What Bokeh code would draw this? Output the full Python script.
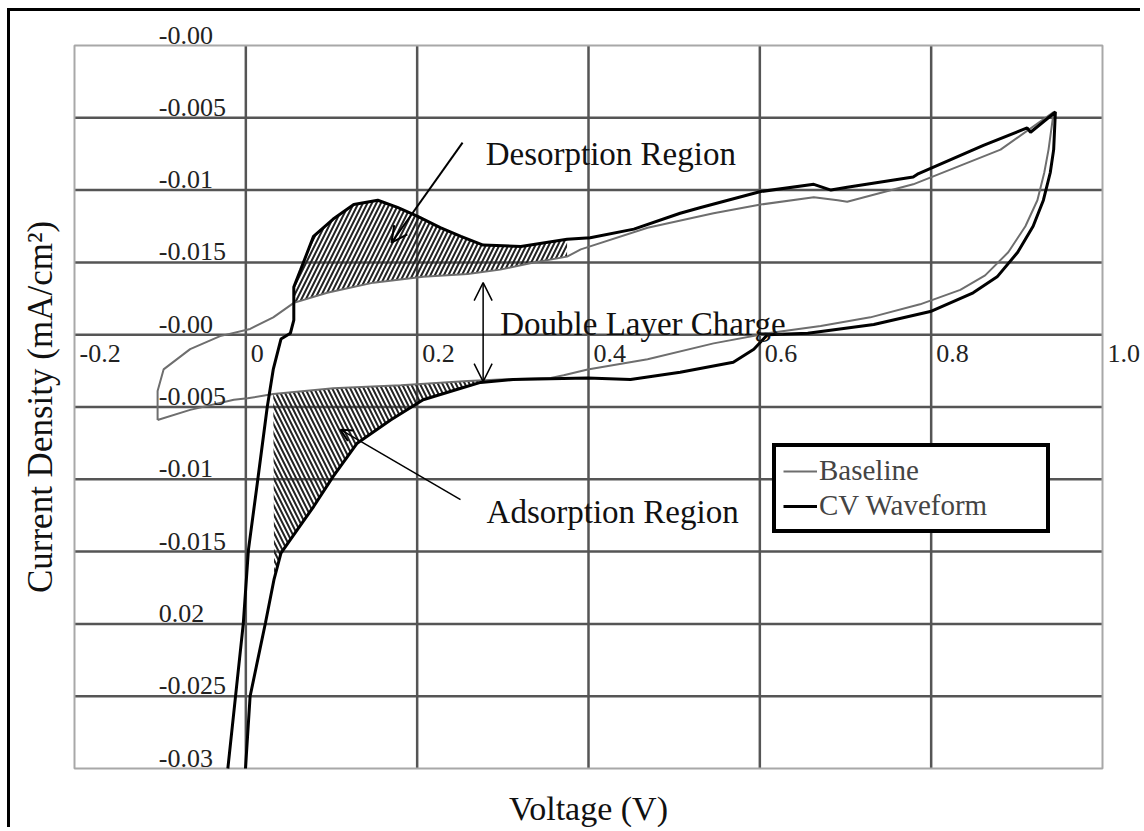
import numpy as np
from bokeh.plotting import figure
from bokeh.models import (Range1d, ColumnDataSource, LabelSet, Label,
                          Arrow, OpenHead, Legend, LegendItem)
from bokeh.core.properties import value
from bokeh.embed import file_html
from bokeh.resources import INLINE

# ---------------- data ----------------
x_ticks = [-0.2, 0.0, 0.2, 0.4, 0.6, 0.8, 1.0]
x_tick_labels = ["-0.2", "0", "0.2", "0.4", "0.6", "0.8", "1.0"]
y_ticks = [0.02, 0.015, 0.01, 0.005, 0.0, -0.005, -0.01, -0.015, -0.02, -0.025, -0.03]
y_tick_labels = ["-0.00", "-0.005", "-0.01", "-0.015", "-0.00", "-0.005",
                 "-0.01", "-0.015", "0.02", "-0.025", "-0.03"]

# CV waveform, anodic sweep (V, mA/cm2)
cv_an_v = [-0.021, -0.012, -0.003, 0.003, 0.014, 0.025, 0.032, 0.041, 0.052, 0.056,
           0.056, 0.064, 0.079, 0.102, 0.126, 0.154, 0.177, 0.200, 0.227, 0.251,
           0.277, 0.321, 0.375, 0.402, 0.453, 0.507, 0.531, 0.601, 0.663, 0.683,
           0.702, 0.779, 0.784, 0.861, 0.912, 0.916, 0.945]
cv_an_j = [-0.0300, -0.0250, -0.0200, -0.0149, -0.0100, -0.0050, -0.0024, -0.0003, 0.0001, 0.0010,
           0.0033, 0.0045, 0.0068, 0.0080, 0.0090, 0.0093, 0.0088, 0.0082, 0.0074, 0.0068,
           0.0062, 0.0061, 0.0066, 0.0067, 0.0073, 0.0084, 0.0088, 0.0099, 0.0104, 0.0100,
           0.0102, 0.0109, 0.0111, 0.0131, 0.0143, 0.0140, 0.0154]
# CV waveform, cathodic sweep
cv_ca_v = [0.943, 0.939, 0.931, 0.919, 0.901, 0.877, 0.849, 0.799, 0.733, 0.656,
           0.609, 0.593, 0.569, 0.507, 0.449, 0.399, 0.312, 0.274, 0.251, 0.207,
           0.169, 0.130, 0.102, 0.079, 0.060, 0.041, 0.033, 0.023, 0.005, -0.0004]
cv_ca_j = [0.0128, 0.0112, 0.0093, 0.0075, 0.0057, 0.0040, 0.0029, 0.0016, 0.0007, 0.0001,
           0.0000, -0.0010, -0.0019, -0.0026, -0.0031, -0.0030, -0.0031, -0.0033, -0.0037, -0.0045,
           -0.0059, -0.0075, -0.0098, -0.0119, -0.0135, -0.0151, -0.0169, -0.0199, -0.0250, -0.0300]

# Baseline, anodic sweep
bl_an_v = [-0.103, -0.103, -0.096, -0.065, -0.030, 0.005, 0.032, 0.056, 0.095, 0.149,
           0.207, 0.259, 0.297, 0.336, 0.375, 0.391, 0.469, 0.546, 0.601, 0.663,
           0.691, 0.702, 0.779, 0.881, 0.943]
bl_an_j = [-0.0059, -0.0039, -0.0024, -0.0010, -0.0001, 0.0004, 0.0012, 0.0022, 0.0029, 0.0036,
           0.0040, 0.0042, 0.0045, 0.0050, 0.0054, 0.0059, 0.0074, 0.0084, 0.0090, 0.0095,
           0.0093, 0.0092, 0.0104, 0.0128, 0.0154]
# Baseline, cathodic sweep
bl_ca_v = [0.937, 0.932, 0.924, 0.910, 0.890, 0.863, 0.834, 0.787, 0.729, 0.671,
           0.609, 0.546, 0.469, 0.399, 0.371, 0.356, 0.297, 0.259, 0.181, 0.102,
           0.032, 0.002, -0.014, -0.065, -0.103]
bl_ca_j = [0.0128, 0.0112, 0.0093, 0.0075, 0.0057, 0.0041, 0.0031, 0.0021, 0.0012, 0.0006,
           0.0001, -0.0006, -0.0017, -0.0024, -0.0028, -0.0030, -0.0031, -0.0032, -0.0035, -0.0037,
           -0.0041, -0.0044, -0.0045, -0.0052, -0.0059]

# ---------------- derived shapes ----------------
cv_v = cv_an_v + cv_ca_v
cv_j = cv_an_j + cv_ca_j
bl_v = bl_an_v + bl_ca_v
bl_j = bl_an_j + bl_ca_j

a_v, a_j = np.array(cv_an_v), np.array(cv_an_j)
b_v, b_j = np.array(bl_an_v), np.array(bl_an_j)
m_top = (a_v >= 0.056) & (a_v <= 0.39) & (a_j >= 0.0022)
m_bot = (b_v >= 0.056) & (b_v <= 0.39)
des_v = list(a_v[m_top]) + list(b_v[m_bot][::-1])
des_j = list(a_j[m_top]) + list(b_j[m_bot][::-1])

c_v, c_j = np.array(cv_ca_v), np.array(cv_ca_j)
d_v, d_j = np.array(bl_ca_v), np.array(bl_ca_j)
m_cv = (c_v >= 0.033) & (c_v <= 0.30) & (c_j <= -0.003)
m_bl = (d_v >= 0.03) & (d_v <= 0.30)
ads_v = list(c_v[m_cv]) + list(d_v[m_bl][::-1])
ads_j = list(c_j[m_cv]) + list(d_j[m_bl][::-1])

SERIF = "Liberation Serif"

# ---------------- layout geometry (page pixels) ----------------
CX0, CY0, CW, CH = 10, 11, 1133, 819        # canvas content box
GL, GR, GT, GB = 74, 1102, 45, 768          # grid box
xmin, xmax = x_ticks[0], x_ticks[-1]
ymin, ymax = y_ticks[-1], y_ticks[0]
kx = (GR - GL) / (xmax - xmin)
ky = (GB - GT) / (ymax - ymin)
x_range = Range1d(xmin - (GL - CX0) / kx, xmax + (CX0 + CW - GR) / kx)
y_range = Range1d(ymin - (CY0 + CH - GB) / ky, ymax + (GT - CY0) / ky)

p = figure(width=CW, height=CH, x_range=x_range, y_range=y_range,
           x_axis_location=None, y_axis_location=None,
           toolbar_location=None, output_backend="svg",
           min_border=0, min_border_left=0, min_border_right=0,
           min_border_top=0, min_border_bottom=0,
           background_fill_color="white", border_fill_color="white",
           outline_line_color=None)
p.styles = {"margin-left": "7px", "margin-top": "8px",
            "border-top": "3px solid black", "border-left": "3px solid black"}
p.xgrid.visible = False
p.ygrid.visible = False

# grid lines and grid box
gx = x_ticks[1:-1]
gy = y_ticks[1:-1]
p.segment(x0=gx, y0=[ymin] * len(gx), x1=gx, y1=[ymax] * len(gx),
          line_color="#555555", line_width=2.5)
p.segment(x0=[xmin] * len(gy), y0=gy, x1=[xmax] * len(gy), y1=gy,
          line_color="#555555", line_width=2.5)
p.quad(left=[xmin], right=[xmax], bottom=[ymin], top=[ymax],
       fill_alpha=0, line_color="#a8a8a8", line_width=2)

# hatched regions
p.patch(des_v, des_j, fill_alpha=0, line_alpha=0,
        hatch_pattern="/", hatch_scale=9, hatch_weight=2, hatch_color="#222222")
p.patch(ads_v, ads_j, fill_alpha=0, line_alpha=0,
        hatch_pattern="\\", hatch_scale=9, hatch_weight=2, hatch_color="#222222")

bl = p.line(bl_v, bl_j, line_color="#6e6e6e", line_width=2)
cv = p.line(cv_v, cv_j, line_color="black", line_width=3)

# tick labels
xsrc = ColumnDataSource(dict(x=x_ticks, y=[0.0] * len(x_ticks), t=x_tick_labels))
ysrc = ColumnDataSource(dict(x=[0.0] * len(y_ticks), y=y_ticks, t=y_tick_labels))
p.add_layout(LabelSet(x="x", y="y", text="t", source=xsrc, x_offset=5, y_offset=-27,
                      text_align="left", text_baseline="alphabetic",
                      text_font=value(SERIF), text_font_size="26px", text_color="#222222"))
p.add_layout(LabelSet(x="x", y="y", text="t", source=ysrc, x_offset=-87, y_offset=2,
                      text_align="left", text_baseline="alphabetic",
                      text_font=value(SERIF), text_font_size="26px", text_color="#222222"))

# axis titles
p.add_layout(Label(x=(xmin + xmax) / 2, y=ymin, y_offset=-40, text="Voltage (V)",
                   text_align="center", text_baseline="alphabetic", text_font=SERIF,
                   text_font_size="34px", text_color="#111111"))
p.add_layout(Label(x=xmin, x_offset=-34, y=(ymin + ymax) / 2, text="Current Density (mA/cm²)",
                   angle=90, angle_units="deg", text_align="center", text_baseline="alphabetic",
                   text_font=SERIF, text_font_size="35px", text_color="#111111"))

# annotations
for tx, ty, tt in [(0.280, 0.01252, "Desorption Region"),
                   (0.297, 0.00076, "Double Layer Charge"),
                   (0.281, -0.01224, "Adsorption Region")]:
    p.add_layout(Label(x=tx, y=ty, text=tt, text_align="left", text_baseline="alphabetic",
                       text_font=SERIF, text_font_size="33px", text_color="#111111"))

p.add_layout(Arrow(end=OpenHead(size=16, line_width=2), x_start=0.253, y_start=0.01328,
                   x_end=0.170, y_end=0.00636, line_width=2))
p.add_layout(Arrow(start=OpenHead(size=18, line_width=1.5), end=OpenHead(size=18, line_width=1.5),
                   x_start=0.277, y_start=0.0036, x_end=0.277, y_end=-0.00325, line_width=1.5))
p.add_layout(Arrow(end=OpenHead(size=12, line_width=2), x_start=0.2506, y_start=-0.01141,
                   x_end=0.1105, y_end=-0.00657, line_width=1.5))

legend = Legend(items=[LegendItem(label="Baseline", renderers=[bl]),
                       LegendItem(label="CV Waveform", renderers=[cv])],
                location=(772 - CX0, CY0 + CH - 533), margin=0, padding=7, spacing=2,
                glyph_width=34, label_standoff=2, label_width=220,
                label_text_font=SERIF, label_text_font_size="29px",
                border_line_color="black", border_line_width=4, border_line_alpha=1,
                background_fill_color="white", background_fill_alpha=1)
p.add_layout(legend)

open("out.html", "w").write(file_html(p, INLINE))
